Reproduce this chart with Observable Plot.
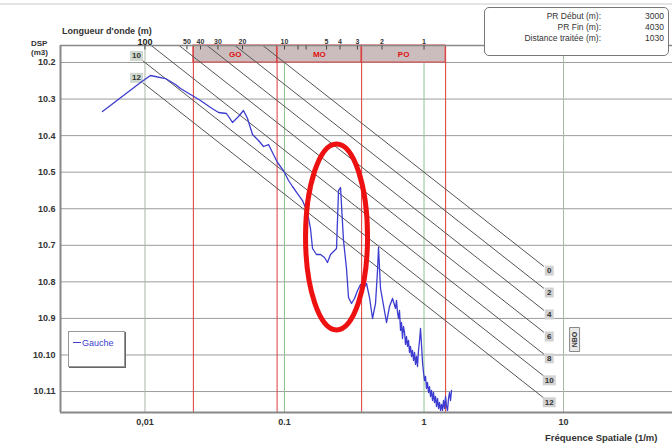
<!DOCTYPE html>
<html lang="fr">
<head>
<meta charset="utf-8">
<title>DSP – Gauche</title>
<script src="https://cdn.jsdelivr.net/npm/d3@7"></script>
<script src="https://cdn.jsdelivr.net/npm/@observablehq/plot@0.6"></script>
<style>
  html, body { margin: 0; padding: 0; background: #fff; }
  #chart { position: relative; width: 672px; height: 448px; overflow: hidden;
           font-family: "Liberation Sans", Arial, sans-serif; color: #333; }
  #chart svg { position: absolute; left: 0; top: 0; }
  .txt { position: absolute; white-space: nowrap; font-weight: bold; line-height: 1; }
  .topline { position: absolute; left: 0; top: 3px; width: 672px; height: 2px; background: #e4e4e4; }
  .info { position: absolute; left: 484px; top: 7px; width: 185px; height: 49px; box-sizing: border-box;
          border: 1.5px solid #777; border-radius: 5px; background: #fff; }
  .info .row { position: absolute; font-size: 8.5px; line-height: 1; white-space: nowrap; color: #333; }
  .legend { position: absolute; left: 68px; top: 331px; width: 57px; height: 36px; box-sizing: border-box;
            border: 1px solid #999; box-shadow: 1px 1px 0 #666; background: #fff; }
  .legend .swatch { position: absolute; left: 4px; top: 10px; width: 8px; height: 1px; background: #3c3cd0; }
  .legend .name { position: absolute; left: 13px; top: 6px; font-size: 9px; color: #3c3cd0; }
</style>
</head>
<body>
<div id="chart"></div>
<script>
// Spectral density (DSP, m³) of the left wheel path against spatial frequency (1/m)
const freq = [
  0.00496, 0.00929, 0.01095, 0.01403, 0.01655, 0.01797, 0.0212, 0.0250, 0.0295, 0.0337,
  0.0384, 0.0424, 0.0468, 0.0508, 0.0543, 0.0590, 0.0651, 0.0707, 0.0768, 0.0820,
  0.0891, 0.0983, 0.1068, 0.1141, 0.1239, 0.1346, 0.1462, 0.1536, 0.1588, 0.1696,
  0.1812, 0.1935, 0.2033, 0.2137, 0.2283, 0.2360, 0.2439, 0.2521, 0.2563, 0.2648,
  0.2782, 0.2876, 0.3021, 0.3176, 0.3338, 0.3507, 0.3685, 0.3872, 0.4068, 0.4275,
  0.4492, 0.4642, 0.4719, 0.4878, 0.5125, 0.5385, 0.5659, 0.5946,
  0.625, 0.635, 0.646, 0.657, 0.667, 0.679, 0.690, 0.701, 0.713, 0.725,
  0.737, 0.749, 0.762, 0.774, 0.787, 0.800, 0.814, 0.827, 0.841, 0.855,
  0.869, 0.884, 0.898, 0.913, 0.929, 0.944, 0.960, 0.976, 0.992, 1.008,
  1.025, 1.042, 1.059, 1.077, 1.095, 1.113, 1.132, 1.151, 1.170, 1.189,
  1.209, 1.229, 1.250, 1.271, 1.292, 1.313, 1.335, 1.357, 1.380, 1.403,
  1.426, 1.450, 1.474, 1.498, 1.523, 1.549, 1.574
];
const dsp = [
  4.57e-4, 2.84e-3, 4.41e-3, 3.65e-3, 2.50e-3, 1.95e-3, 1.33e-3, 9.14e-4, 5.88e-4, 4.29e-4,
  4.03e-4, 2.29e-4, 3.33e-4, 4.86e-4, 2.94e-4, 1.07e-4, 7.36e-5, 5.04e-5, 5.71e-5, 3.45e-5,
  1.84e-5, 1.11e-5, 5.92e-6, 4.06e-6, 2.61e-6, 1.68e-6, 7.89e-7, 2.88e-7, 8.17e-8, 5.60e-8,
  5.60e-8, 4.63e-8, 3.39e-8, 5.60e-8, 7.21e-8, 8.17e-8, 3.15e-6, 3.81e-6, 1.23e-6, 1.35e-7,
  2.32e-8, 3.73e-9, 2.56e-9, 3.51e-9, 5.81e-9, 8.47e-9, 6.58e-9, 9.02e-9, 3.73e-9, 9.95e-10,
  2.56e-9, 2.05e-8, 8.71e-8, 6.58e-9, 2.26e-9, 7.73e-10, 2.12e-9, 3.51e-9,
  1.87e-9, 3.09e-9, 1.45e-9, 9.95e-10, 1.65e-9, 4.68e-10, 7.73e-10, 2.82e-10, 6.01e-10, 4.12e-10,
  1.94e-10, 3.20e-10, 1.71e-10, 2.49e-10, 1.17e-10, 1.71e-10, 9.08e-11, 1.33e-10, 7.06e-11, 1.17e-10,
  5.50e-11, 9.08e-11, 4.84e-11, 1.33e-10, 2.49e-10, 5.30e-10, 1.82e-10, 6.22e-11, 3.32e-11, 2.00e-11,
  2.58e-11, 1.21e-11, 1.77e-11, 9.42e-12, 1.37e-11, 7.31e-12, 1.07e-11, 5.69e-12, 9.42e-12, 5.01e-12,
  7.31e-12, 3.90e-12, 6.45e-12, 3.44e-12, 5.01e-12, 3.03e-12, 4.43e-12, 3.03e-12, 5.69e-12, 3.44e-12,
  7.31e-12, 3.90e-12, 3.03e-12, 6.45e-12, 9.42e-12, 5.69e-12, 1.07e-11
];
const seriesName = "Gauche";

// Axes
const yTicks = [1e-2, 1e-3, 1e-4, 1e-5, 1e-6, 1e-7, 1e-8, 1e-9, 1e-10, 1e-11];
const yTickLabels = ["10.2", "10.3", "10.4", "10.5", "10.6", "10.7", "10.8", "10.9", "10.10", "10.11"];
const xTicks = [0.01, 0.1, 1, 10];
const xTickLabels = ["0,01", "0.1", "1", "10"];
const wavelengths = [100, 50, 40, 30, 20, 10, 8, 7, 5, 4, 3, 2, 1];
const wavelengthLabels = ["100", "50", "40", "30", "20", "10", "", "", "5", "4", "3", "2", "1"];

// NBO wavelength bands (bounds in metres)
const bandNames = ["GO", "MO", "PO"];
const bandLimits = [45, 11.3, 2.8, 0.7];

// NBO note lines: DSP level at 1 m⁻¹, each falling as f^-3
const noteNames = ["0", "2", "4", "6", "8", "10", "12"];
const noteLevels = [1.0e-5, 2.51e-6, 6.31e-7, 1.58e-7, 3.98e-8, 1.0e-8, 2.51e-9];

// Section details
const infoLabels = ["PR Début (m):", "PR Fin (m):", "Distance traitée (m):"];
const infoValues = ["3000", "4030", "1030"];

// Highlighted peak
const focus = { freq: 0.236, dsp: 1.7e-7 };

// ---- scale extents of the plotting area
const xDomain = [0.00248, 60.4];
const yDomain = [2.67e-12, 0.0292];

const curve = freq.map((f, i) => ({ f, v: dsp[i] }));
const bands = bandNames.map((name, i) => ({
  name, x1: 1 / bandLimits[i], x2: 1 / bandLimits[i + 1],
  xm: Math.sqrt(1 / (bandLimits[i] * bandLimits[i + 1]))
}));
const waveTicks = wavelengths.map((w, i) => ({ f: 1 / w, label: wavelengthLabels[i], big: w === 100 }));
const noteStart = 0.0093, noteEnd = 7.2, noteLabelRight = 7.9, noteLabelLeft = 0.0087;
const noteLines = noteNames.flatMap((n, i) =>
  [noteStart, noteEnd].map(f => ({ note: n, f, v: noteLevels[i] * f ** -3 })));
const noteRight = noteNames.map((n, i) => ({ n, f: noteLabelRight, v: noteLevels[i] * noteLabelRight ** -3 }));
const noteLeft = noteNames.map((n, i) => ({ n, f: noteLabelLeft, v: noteLevels[i] * noteLabelLeft ** -3 }))
  .filter(d => d.n === "10" || d.n === "12");

const yLabelOf = new Map(yTicks.map((t, i) => [t, yTickLabels[i]]));
const xLabelOf = new Map(xTicks.map((t, i) => [t, xTickLabels[i]]));

const box = (w, h) => ({
  draw(ctx) {
    ctx.moveTo(-w / 2, -h / 2); ctx.lineTo(w / 2, -h / 2);
    ctx.lineTo(w / 2, h / 2); ctx.lineTo(-w / 2, h / 2); ctx.closePath();
  }
});
const ellipse = (rx, ry) => ({
  draw(ctx) {
    const k = 0.5523;
    ctx.moveTo(rx, 0);
    ctx.bezierCurveTo(rx, ry * k, rx * k, ry, 0, ry);
    ctx.bezierCurveTo(-rx * k, ry, -rx, ry * k, -rx, 0);
    ctx.bezierCurveTo(-rx, -ry * k, -rx * k, -ry, 0, -ry);
    ctx.bezierCurveTo(rx * k, -ry, rx, -ry * k, rx, 0);
    ctx.closePath();
  }
});
const tick = (h) => ({ draw(ctx) { ctx.moveTo(0, 0); ctx.lineTo(0, h); } });

const plot = Plot.plot({
  width: 672, height: 448,
  marginLeft: 60, marginRight: 0, marginTop: 45, marginBottom: 36,
  style: { fontFamily: "'Liberation Sans', Arial, sans-serif", fontSize: "9px", color: "#333", background: "transparent" },
  x: { type: "log", domain: xDomain },
  y: { type: "log", domain: yDomain },
  marks: [
    // grid
    Plot.gridY({ ticks: yTicks, stroke: "#9c9c9c", strokeOpacity: 1, strokeWidth: 1 }),
    Plot.ruleX([0.01, 10], { stroke: "#a8b8a8", strokeWidth: 1 }),
    Plot.ruleX([0.1, 1], { stroke: "#8fc48f", strokeWidth: 1 }),

    // NBO bands
    Plot.rect(bands, { x1: "x1", x2: "x2", y1: 1e-2, y2: yDomain[1], fill: "#cbbdbd", stroke: "#dd4444", strokeWidth: 1 }),
    Plot.text(bands, { x: "xm", y: Math.sqrt(1e-2 * yDomain[1]), text: "name", fill: "#e01010", fontWeight: "bold", fontSize: 8 }),
    Plot.ruleX(bandLimits.map(l => 1 / l), { y1: yDomain[0], y2: yDomain[1], stroke: "#dd3b3b", strokeWidth: 1 }),

    // note lines and their tags
    Plot.line(noteLines, { x: "f", y: "v", z: "note", stroke: "#555", strokeWidth: 1, clip: true }),
    Plot.dot(noteRight.filter(d => d.n.length === 1), { x: "f", y: "v", symbol: box(9, 10), fill: "#d2d2d2", stroke: "none" }),
    Plot.dot(noteRight.filter(d => d.n.length > 1), { x: "f", y: "v", symbol: box(13, 10), fill: "#d2d2d2", stroke: "none" }),
    Plot.dot(noteLeft, { x: "f", y: "v", symbol: box(13, 10), fill: "#cfd8cf", stroke: "none" }),
    Plot.text(noteRight, { x: "f", y: "v", text: "n", fill: "#333", fontWeight: "bold", fontSize: 8 }),
    Plot.text(noteLeft, { x: "f", y: "v", text: "n", fill: "#333", fontWeight: "bold", fontSize: 8 }),
    Plot.dot([{ f: 12, v: 2.65e-10 }], { x: "f", y: "v", symbol: box(10, 24), fill: "#e8e8e8", stroke: "#888", strokeWidth: 1 }),
    Plot.text([{ f: 12, v: 2.65e-10, t: "NBO" }], { x: "f", y: "v", text: "t", rotate: -90, fill: "#333", fontWeight: "bold", fontSize: 7 }),

    // measured spectrum
    Plot.line(curve, { x: "f", y: "v", stroke: "#3c3cd0", strokeWidth: 1.3, strokeLinejoin: "round" }),

    // frame
    Plot.ruleX([xDomain[0]], { stroke: "#888", strokeWidth: 2 }),
    Plot.ruleY([yDomain[0]], { stroke: "#888", strokeWidth: 2 }),
    Plot.ruleY([yDomain[1]], { stroke: "#888", strokeWidth: 1.5 }),

    // axes
    Plot.axisY({ ticks: yTicks, tickFormat: d => yLabelOf.get(d) ?? "", tickSize: 0, tickPadding: 5,
                 fontWeight: "bold", fontSize: 9, fill: "#333", label: null }),
    Plot.axisX({ anchor: "bottom", ticks: xTicks, tickFormat: d => xLabelOf.get(d) ?? "", tickSize: 0, tickPadding: 6,
                 fontWeight: "bold", fontSize: 9, fill: "#333", label: null }),

    // wavelength scale along the top edge
    Plot.dot(waveTicks, { x: "f", frameAnchor: "top", symbol: tick(4), stroke: "#444", strokeWidth: 1 }),
    Plot.text(waveTicks.filter(d => !d.big), { x: "f", frameAnchor: "top", dy: -2, lineAnchor: "bottom", text: "label",
                 fill: "#333", fontWeight: "bold", fontSize: 7 }),
    Plot.text(waveTicks.filter(d => d.big), { x: "f", frameAnchor: "top", dy: -1, lineAnchor: "bottom", text: "label",
                 fill: "#222", fontWeight: "bold", fontSize: 9 }),

    // highlighted peak
    Plot.dot([focus], { x: "freq", y: "dsp", symbol: ellipse(31, 93), fill: "none", stroke: "#ee1111", strokeWidth: 5 })
  ]
});

const chart = document.getElementById("chart");
chart.appendChild(plot);

const add = (cls, html, style) => {
  const el = document.createElement("div");
  el.className = cls;
  el.innerHTML = html;
  if (style) Object.assign(el.style, style);
  chart.appendChild(el);
  return el;
};

add("topline", "");
add("txt", "Longueur d'onde (m)", { left: "62px", top: "27px", fontSize: "9px" });
add("txt", "DSP<br>(m3)", { left: "31px", top: "39px", fontSize: "8px", lineHeight: "9px" });
add("txt", "Fréquence Spatiale (1/m)", { left: "545px", top: "433px", fontSize: "9.5px" });

const info = add("info", "");
infoLabels.forEach((label, i) => {
  const top = 4 + i * 11;
  const l = document.createElement("div");
  l.className = "row"; l.textContent = label;
  Object.assign(l.style, { right: "67px", top: top + "px" });
  const v = document.createElement("div");
  v.className = "row"; v.textContent = infoValues[i];
  Object.assign(v.style, { right: "4px", top: top + "px" });
  info.appendChild(l); info.appendChild(v);
});

add("legend", `<span class="swatch"></span><span class="name">${seriesName}</span>`);
</script>
</body>
</html>
